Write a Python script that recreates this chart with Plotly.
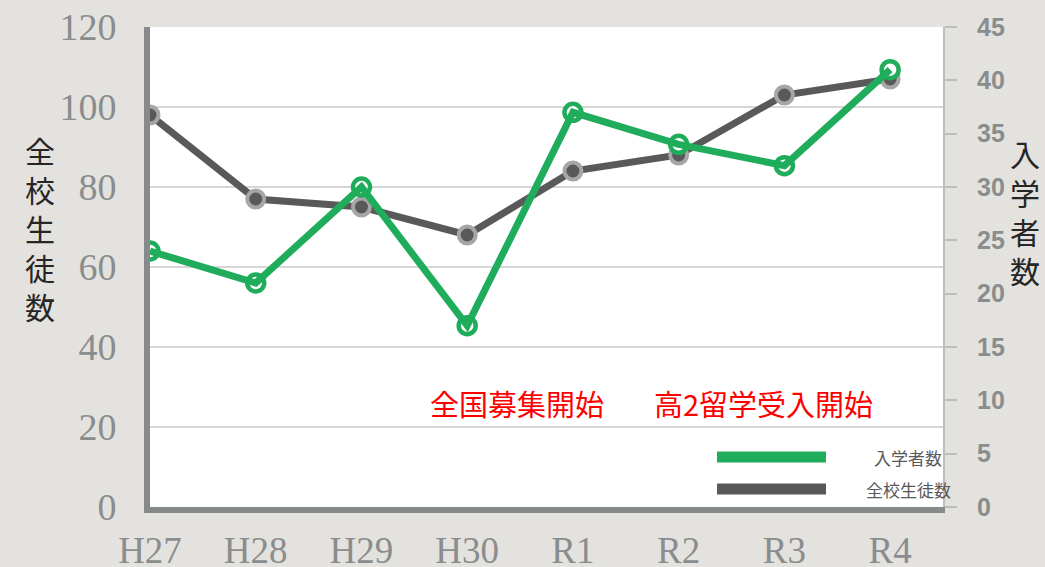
import plotly.graph_objects as go

# School enrolment figures by fiscal year
years = ["H27", "H28", "H29", "H30", "R1", "R2", "R3", "R4"]
total_students = [98, 77, 75, 68, 84, 88, 103, 107]   # 全校生徒数 (left axis)
new_entrants = [24, 21, 30, 17, 37, 34, 32, 41]        # 入学者数 (right axis)

left_ticks = [0, 20, 40, 60, 80, 100, 120]
right_ticks = [0, 5, 10, 15, 20, 25, 30, 35, 40, 45]

GREEN = "#1fad5b"
DARK = "#595959"
RING = "#a6a6a6"
AXIS_GRAY = "#868a8a"
TICK_GRAY = "#8a8d8d"

W, H = 1045, 567
L, R, T, B = 150, 943, 27, 507  # plot area in pixels


def px_x(p):
    return (p - L) / (R - L)


def px_y(p):
    return (B - p) / (B - T)


fig = go.Figure()

# total students: dark line with ringed markers
fig.add_trace(go.Scatter(
    x=years, y=total_students, mode="lines+markers", yaxis="y",
    line=dict(color=DARK, width=7),
    marker=dict(size=17, color=DARK, line=dict(color=RING, width=4)),
    showlegend=False, hoverinfo="skip",
))

# entrants: hollow green markers beneath the green line
fig.add_trace(go.Scatter(
    x=years, y=new_entrants, mode="markers", yaxis="y2",
    marker=dict(size=17, color="white", line=dict(color=GREEN, width=4.5)),
    showlegend=False, hoverinfo="skip",
))
fig.add_trace(go.Scatter(
    x=years, y=new_entrants, mode="lines", yaxis="y2",
    line=dict(color=GREEN, width=7),
    showlegend=False, hoverinfo="skip",
))

serif = "Liberation Serif, DejaVu Serif, serif"
cjk = "Noto Sans CJK JP, sans-serif"

fig.update_layout(
    width=W, height=H,
    margin=dict(l=L, r=W - R, t=T, b=H - B, autoexpand=False),
    paper_bgcolor="#e4e2de",
    plot_bgcolor="white",
    xaxis=dict(
        type="category", range=[0, 7.5], automargin=False,
        showgrid=False, zeroline=False,
        showline=True, linecolor=AXIS_GRAY, linewidth=6,
        ticks="", ticklabelstandoff=6,
        tickfont=dict(family=serif, size=37, color=TICK_GRAY),
    ),
    yaxis=dict(
        range=[0, 120], tickvals=left_ticks, automargin=False,
        showgrid=True, gridcolor="#d6d6d6", gridwidth=2,
        zeroline=False,
        showline=True, linecolor=AXIS_GRAY, linewidth=6,
        ticks="", ticklabelstandoff=20,
        tickfont=dict(family=serif, size=38, color=TICK_GRAY),
    ),
    yaxis2=dict(
        range=[0, 45], tickvals=right_ticks, automargin=False,
        overlaying="y", side="right",
        showgrid=False, zeroline=False,
        showline=True, linecolor="#bdbdbd", linewidth=2,
        ticks="outside", ticklen=12, tickcolor="#bdbdbd", tickwidth=2,
        ticklabelstandoff=15,
        tickfont=dict(family="Liberation Sans, Arial, sans-serif",
                      size=25, color=TICK_GRAY, weight="bold"),
    ),
)

annotations = [
    # vertical axis titles
    dict(text="全<br>校<br>生<br>徒<br>数", x=px_x(40), y=px_y(228),
         font=dict(family=cjk, size=30, color="#262626")),
    dict(text="入<br>学<br>者<br>数", x=px_x(1025), y=px_y(212),
         font=dict(family=cjk, size=30, color="#262626")),
    # milestone notes
    dict(text="全国募集開始", x=px_x(517), y=px_y(403),
         font=dict(family=cjk, size=29, color="#ff0000")),
    dict(text="高2留学受入開始", x=px_x(763), y=px_y(403),
         font=dict(family=cjk, size=29, color="#ff0000")),
    # legend labels
    dict(text="入学者数", x=px_x(944), y=px_y(457), xanchor="right",
         font=dict(family=cjk, size=17, color="#595959")),
    dict(text="全校生徒数", x=px_x(953), y=px_y(489), xanchor="right",
         font=dict(family=cjk, size=17, color="#595959")),
]
for a in annotations:
    a.setdefault("xanchor", "center")
    fig.add_annotation(xref="paper", yref="paper", showarrow=False,
                       yanchor="middle", **a)

# legend swatches
fig.add_shape(type="line", xref="paper", yref="paper",
              x0=px_x(717), x1=px_x(826), y0=px_y(457), y1=px_y(457),
              line=dict(color=GREEN, width=11))
fig.add_shape(type="line", xref="paper", yref="paper",
              x0=px_x(717), x1=px_x(826), y0=px_y(489), y1=px_y(489),
              line=dict(color=DARK, width=11))

fig.write_html("out.html")
